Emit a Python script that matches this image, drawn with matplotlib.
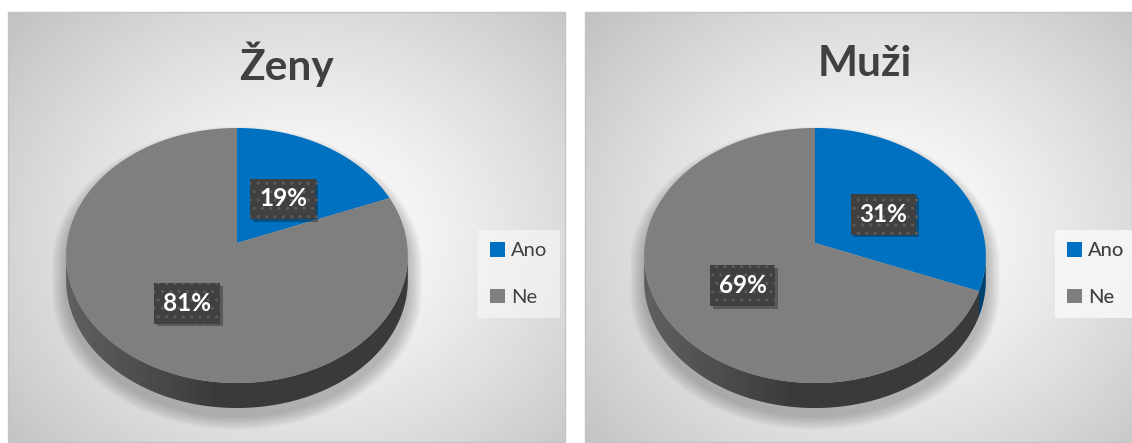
import numpy as np
import matplotlib.pyplot as plt
from matplotlib.patches import Polygon, Rectangle
import matplotlib.patheffects as pe

plt.rcParams['font.family'] = ['Lato', 'DejaVu Sans']

# data
kategorie = ['Ano', 'Ne']
nazvy = ['Ženy', 'Muži']
hodnoty = [[19, 81], [31, 69]]
barvy = ['#0070C0', '#7F7F7F']
barvy_bok = ['#00406f', '#3a3a3a']

W, H = 1132, 443
fig = plt.figure(figsize=(W / 100, H / 100), dpi=100)
ax = fig.add_axes([0, 0, 1, 1])

# panel layout (pixels)
panely = [(8, 565), (585, 1132)]
Y0, Y1 = 12, 442
stredy = [(237, 243), (815, 243)]
A, B, K, D = 126.3, 170.0, -0.098, 25.0


def proj(cx, cy, t, r=1.0, dz=0.0):
    s = -r * np.sin(t)
    den = 1 + K * s
    return cx + B * r * np.cos(t) / den, cy + A * s / den + dz


def pozadi(x0, x1):
    xx, yy = np.meshgrid(np.linspace(x0, x1, 300), np.linspace(Y0, Y1, 240))
    cx, cy = (x0 + x1) / 2 + 20, Y0 + 0.52 * (Y1 - Y0)
    r = np.hypot((xx - cx) / ((x1 - x0) / 2), (yy - cy) / ((Y1 - Y0) * 0.55))
    v = 1 - 0.25 * np.clip(r / 1.45, 0, 1) ** 1.3
    ax.imshow(v, cmap='gray', vmin=0, vmax=1, extent=(x0, x1, Y1, Y0),
              zorder=0, interpolation='bilinear')
    ax.add_patch(Rectangle((x0, Y0), x1 - x0, Y1 - Y0, fc='none',
                           ec='#c4c4c4', lw=1, zorder=1))


tt = np.linspace(np.pi, 2 * np.pi, 3001)

for i, (x0, x1) in enumerate(panely):
    pozadi(x0, x1)
    cx, cy = stredy[i]
    xs, _ = proj(cx, cy, tt)
    tl, tr = tt[np.argmin(xs)], tt[np.argmax(xs)]

    # silhouette + soft shadow
    horni = np.linspace(tr - 2 * np.pi, tl, 300)
    dolni = np.linspace(tl, tr, 300)
    sx = np.concatenate([proj(cx, cy, horni)[0], proj(cx, cy, dolni, dz=D)[0]])
    sy = np.concatenate([proj(cx, cy, horni)[1], proj(cx, cy, dolni, dz=D)[1]])
    for k in range(12):
        f = 1.0 + 0.007 * (k + 1)
        ax.add_patch(Polygon(np.column_stack([cx + (sx - cx) * f, cy + 8 + (sy - cy) * f]),
                             closed=True, fc='black', ec='none', alpha=0.02, zorder=2))

    frac = np.array(hodnoty[i]) / sum(hodnoty[i])
    starty = np.pi / 2 - 2 * np.pi * np.concatenate([[0], np.cumsum(frac)[:-1]])
    konce = starty - 2 * np.pi * frac

    # side walls
    for j in range(len(frac)):
        for sh in (-2 * np.pi, 0, 2 * np.pi):
            a0, a1 = max(konce[j] + sh, tl), min(starty[j] + sh, tr)
            if a1 <= a0:
                continue
            ta = np.linspace(a0, a1, 200)
            px = np.concatenate([proj(cx, cy, ta)[0], proj(cx, cy, ta[::-1], dz=D)[0]])
            py = np.concatenate([proj(cx, cy, ta)[1], proj(cx, cy, ta[::-1], dz=D)[1]])
            bok = Polygon(np.column_stack([px, py]), closed=True, fc=barvy_bok[j],
                          ec='none', zorder=3)
            ax.add_patch(bok)
            if j == 1:
                g = np.clip(1 - (np.linspace(0, 1, 200) / 0.45), 0, 1)
                rgba = np.zeros((2, 200, 4))
                rgba[..., :3] = 1
                rgba[..., 3] = 0.2 * g
                im = ax.imshow(rgba, extent=(cx - B - 5, cx + B + 5, cy + A + D + 10, cy - 10),
                               zorder=3.5, interpolation='bilinear')
                im.set_clip_path(bok)

    # top faces
    for j in range(len(frac)):
        ta = np.linspace(starty[j], konce[j], 300)
        px, py = proj(cx, cy, ta)
        ax.add_patch(Polygon(np.column_stack([np.r_[cx, px], np.r_[cy, py]]),
                             closed=True, fc=barvy[j], ec='none', zorder=4))

    # data labels
    for j in range(len(frac)):
        tm = (starty[j] + konce[j]) / 2
        lx, ly = proj(cx, cy, tm, r=0.5)
        txt = ax.text(lx, ly + 6, f'{hodnoty[i][j]}%', color='white', fontsize=17.5,
                      fontweight='bold', ha='center', va='center', zorder=6,
                      bbox=dict(boxstyle='square,pad=0.36', fc='#404040',
                                ec='#5c5c5c', lw=0, hatch='..'))
        txt.get_bbox_patch().set_path_effects(
            [pe.SimplePatchShadow(offset=(2, -2), alpha=0.35), pe.Normal()])

    # title
    ax.text(cx + 50, 64, nazvy[i], fontsize=30.5, fontweight='bold',
            color='#404040', ha='center', va='center', zorder=6)

    # legend
    handles = [Rectangle((0, 0), 1, 1, fc=c, ec='none') for c in barvy]
    leg = ax.legend(handles, kategorie, loc='center left',
                    bbox_to_anchor=(x0 + 460, 274), bbox_transform=ax.transData,
                    fontsize=14.5, labelcolor='#404040', handlelength=0.75,
                    handleheight=0.75, handletextpad=0.3, labelspacing=1.45,
                    frameon=True, fancybox=False, borderpad=0.6)
    leg.get_frame().set_facecolor('#f9f9f9')
    leg.get_frame().set_alpha(0.6)
    leg.get_frame().set_edgecolor('none')
    leg.set_zorder(7)
    ax.add_artist(leg)

ax.set_xlim(0, W)
ax.set_ylim(H, 0)
ax.set_aspect('auto')
ax.axis('off')
fig.savefig('out.png', dpi=100, facecolor='white')
